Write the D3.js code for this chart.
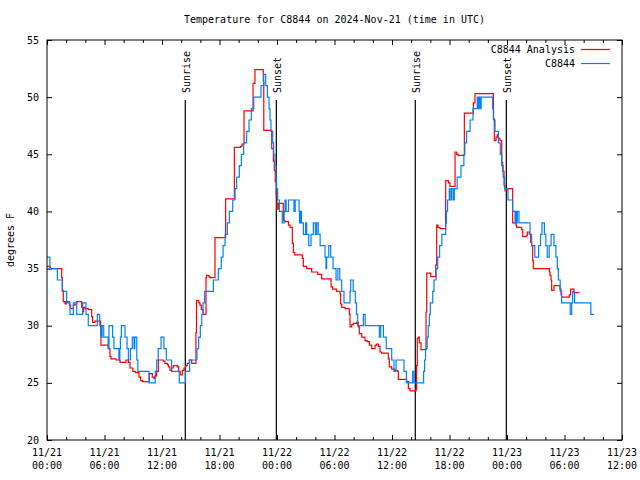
<!DOCTYPE html>
<html><head><meta charset="utf-8">
<script src="https://cdn.jsdelivr.net/npm/d3@7"></script>
<style>
body{margin:0;background:#fff;}
text{font-family:"DejaVu Sans Mono",monospace;font-size:10px;fill:#000;}
</style></head><body>
<svg id="c" width="640" height="480"></svg>
<script>
// ---- data (hours after 2024-11-21 00:00 UTC) ----
const startUTC = Date.UTC(2024,10,21,0,0);
const endHours = 60;
const yTicks = [20,25,30,35,40,45,50,55];
const majorTickHours = [0,6,12,18,24,30,36,42,48,54,60];
const tickDateLabels = ["11/21","11/21","11/21","11/21","11/22","11/22","11/22","11/22","11/23","11/23","11/23"];
const tickTimeLabels = ["00:00","06:00","12:00","18:00","00:00","06:00","12:00","18:00","00:00","06:00","12:00"];
const sunHours = [14.43, 23.93, 38.43, 47.93];
const sunLabels = ["Sunrise","Sunset","Sunrise","Sunset"];
const seriesNames = ["C8844 Analysis","C8844"];

const obsHours = [0,0.3,1.08,1.6,2.05,2.4,2.75,3.1,3.72,4.07,4.31,5.25,5.5,5.63,5.75,5.92,6.38,6.47,6.85,6.99,7.5,7.6,7.66,7.76,8.14,8.35,8.49,8.7,8.9,9.08,9.16,9.37,9.48,10.64,11.3,11.45,11.6,11.9,12.2,12.45,13.0,13.8,14.45,14.88,15.65,15.82,16.0,16.15,16.28,16.45,17.36,17.88,18.19,18.37,18.58,18.82,19.03,19.38,19.62,19.79,20.07,20.28,20.52,20.83,21.08,21.32,21.57,22.33,22.61,22.82,23.0,23.17,23.27,23.37,23.55,23.65,23.79,23.9,23.96,24.07,24.25,24.55,24.75,24.84,24.95,25.2,25.77,25.9,26.3,26.35,26.45,26.55,26.75,26.99,27.1,27.31,27.55,27.79,28.0,28.14,28.3,28.5,29.01,29.11,29.18,29.4,29.6,29.85,30.16,30.35,30.55,30.75,30.99,31.62,31.69,31.95,32.17,32.3,32.42,33.01,33.2,34.68,34.82,35.1,35.4,35.97,36.2,36.42,37.25,37.5,38.16,38.3,39.3,39.4,39.5,39.67,39.78,39.9,40.0,40.25,40.38,40.6,40.77,40.97,41.2,41.6,41.68,41.8,41.98,42.05,42.2,42.37,42.5,42.8,43.2,43.5,43.6,43.78,44.15,44.45,44.9,45.0,45.1,45.2,45.3,46.5,46.6,46.75,47.1,47.3,47.45,47.6,47.75,48.1,48.59,48.84,48.95,49.0,49.08,49.25,50.4,50.57,50.9,51.3,51.5,51.65,51.9,52.05,52.2,52.4,52.6,52.9,53.1,53.25,53.36,53.55,53.7,54.6,54.75,54.85,55.05,56.75,57.08];
const obsTemps = [36,35,34,33,32,31,32,31,32,31,30,31,30,29,30,29,28,30,29,28,27,28,29,30,29,28,27,28,29,28,29,27,26,25,26,27,28,29,28,27,26,25,26,27,28,29,30,31,32,33,34,35,36,37,38,39,40,41,42,43,44,45,46,47,48,49,50,51,52,51,50,49,48,47,46,45,44,43,42,41,40,39,40,41,40,41,40,41,40,39,40,39,38,39,38,37,38,39,38,39,38,37,36,35,36,37,36,35,34,35,34,33,32,33,34,33,32,31,30,31,30,29,30,29,28,27,26,27,26,25,26,25,26,27,28,29,30,31,32,33,34,35,36,37,38,39,40,41,42,41,42,41,42,43,44,45,46,47,48,49,50,49,50,49,50,49,48,47,46,45,44,43,42,41,40,39,40,39,40,39,38,37,36,37,38,39,38,37,36,37,38,37,36,35,34,33,32,31,32,33,32,31,31];

const anaHours = [0,0.33,1.53,1.6,1.7,1.88,2.0,2.33,2.47,2.75,2.92,3.1,3.62,3.72,3.82,3.97,4.31,4.66,4.76,5.01,5.6,5.63,6.4,6.57,6.68,7.2,7.62,8.24,8.49,8.66,8.96,9.25,9.6,9.77,9.98,10.68,10.99,11.16,11.27,11.44,11.62,12.14,12.31,12.56,12.66,12.83,13.0,13.18,13.6,13.74,13.9,14.12,14.29,14.47,14.64,14.85,15.1,15.54,15.6,15.85,15.96,16.1,16.3,16.59,16.65,16.9,17.0,17.53,18.64,19.55,20.2,20.35,20.56,21.5,21.7,22.57,22.62,23.45,23.62,23.72,23.82,23.92,24.0,24.14,24.66,24.84,25.2,25.36,25.6,25.71,25.85,26.64,26.75,27.1,27.62,28.25,28.66,29.64,29.81,30.2,30.57,30.64,30.75,31.1,31.55,31.62,31.8,31.97,32.31,32.48,32.59,32.84,33.18,33.4,33.64,33.88,34.23,34.4,34.58,34.75,34.92,35.62,35.72,35.97,36.3,36.59,36.66,37.53,37.71,37.88,38.5,38.57,38.64,38.75,38.85,39.03,39.55,39.62,40.04,40.56,40.66,40.8,41.01,41.6,41.88,42.05,42.58,42.75,42.92,43.55,44.49,44.66,46.58,46.68,46.85,46.99,47.1,47.27,47.45,47.55,47.69,47.79,47.97,48.04,48.59,48.94,49.01,49.53,49.64,50.05,50.12,50.33,50.47,50.57,50.68,50.75,52.42,52.49,52.59,52.66,52.9,53.53,53.64,53.7,54.5,54.64,54.99,55.55];
const anaTemps = [35.2,35,34.2,33.1,32.1,31.9,32.1,31.8,31.5,31.8,31.9,32.1,31.6,31.2,31.6,31.5,31.4,30.8,30.3,30.4,29.3,28.3,28,27.3,27.1,27,26.8,27,26.8,26.3,26,25.9,25.5,25.2,25.1,25.8,25.5,25.4,25.6,26,27,26.9,26.7,26.6,26.4,26.1,26.3,26.5,26.4,26,25.7,26.1,26.3,26.5,26.7,27,26.7,29.4,32.2,32.0,31.8,31.4,31.0,34.2,34.4,34.3,34.2,37.7,41.1,45.6,45.7,45.9,48.8,51.2,52.4,51.4,47.1,45.5,44.4,43.6,42.6,41.5,40.2,40.7,39.2,39.1,38.8,38.6,37.2,36.4,36.2,35.9,35.2,35,34.7,34.5,34.1,33.4,33.2,33.0,32.8,31.9,31.6,31.5,31,29.9,30.1,30.2,30.3,29.9,29.3,29,28.7,28.6,28.3,28,28.3,28.4,28.2,27.7,27.6,27.1,26.4,26.2,26.1,26,25.3,25.1,24.5,24.3,24.4,26.5,28.9,29,28.5,27.9,31.2,34.6,34.3,35.3,38.8,38.6,38.5,42.7,42.5,42.2,45.2,45,44.9,48.6,49.5,50.3,48.1,46.2,46.5,46.7,46.4,46.2,44.3,43.5,42.3,41.8,41.9,42,39,38.8,38.6,38.4,37.8,37.9,38.2,38.0,37.3,37,35.7,35,34.7,34.4,34,33.1,33.5,33.2,32.7,32.5,32.7,33.2,32.9,32.9];

// ---- chart ----
const toDate = h => new Date(startUTC + h*3600e3);
const L=47, R=622, T=40, B=440;
const svg = d3.select("#c");
const x = d3.scaleUtc().domain([toDate(0), toDate(endHours)]).range([L,R]);
const y = d3.scaleLinear().domain([20,55]).range([B,T]);

const majorDates = majorTickHours.map(toDate);
const minorDates = d3.range(0, endHours+0.1, 2).filter(h => h%6!==0).map(toDate);

function styleAxis(g){ g.select(".domain").remove(); g.selectAll(".tick line").attr("stroke","#000"); g.selectAll(".tick text").remove(); }
svg.append("g").attr("transform",`translate(0,${B})`).call(d3.axisBottom(x).tickValues(majorDates).tickSize(-5)).call(styleAxis);
svg.append("g").attr("transform",`translate(0,${B})`).call(d3.axisBottom(x).tickValues(minorDates).tickSize(-3)).call(styleAxis);
svg.append("g").attr("transform",`translate(0,${T})`).call(d3.axisTop(x).tickValues(majorDates).tickSize(-5)).call(styleAxis);
svg.append("g").attr("transform",`translate(0,${T})`).call(d3.axisTop(x).tickValues(minorDates).tickSize(-3)).call(styleAxis);
svg.append("g").attr("transform",`translate(${L},0)`).call(d3.axisLeft(y).tickValues(yTicks).tickSize(-5)).call(styleAxis);
svg.append("g").attr("transform",`translate(${R},0)`).call(d3.axisRight(y).tickValues(yTicks).tickSize(-5)).call(styleAxis);

// tick labels
svg.append("g").selectAll("text").data(yTicks).join("text")
  .attr("x", L-8).attr("y", d=>y(d)).attr("dy","0.35em").attr("text-anchor","end").text(d=>d);
const xl = svg.append("g").selectAll("g").data(majorTickHours).join("g");
xl.append("text").attr("x",(d)=>x(toDate(d))).attr("y",B+16).attr("text-anchor","middle").text((d,i)=>tickDateLabels[i]);
xl.append("text").attr("x",(d)=>x(toDate(d))).attr("y",B+29).attr("text-anchor","middle").text((d,i)=>tickTimeLabels[i]);

// sunrise/sunset
const sg = svg.append("g").selectAll("g").data(sunHours).join("g");
sg.append("line").attr("x1",d=>x(toDate(d))).attr("x2",d=>x(toDate(d))).attr("y1",T+60).attr("y2",B)
  .attr("stroke","#000").attr("stroke-width",1.2);
sg.append("text").attr("transform",d=>`translate(${x(toDate(d))+4.5},${T+53}) rotate(-90)`)
  .attr("text-anchor","start").text((d,i)=>sunLabels[i]);

// series
const line = d3.line().curve(d3.curveStepAfter).x(d=>x(toDate(d[0]))).y(d=>y(d[1]));
const ana = anaHours.map((h,i)=>[h,anaTemps[i]]);
const obs = obsHours.map((h,i)=>[h,obsTemps[i]]);
svg.append("path").datum(ana).attr("d",line).attr("fill","none").attr("stroke","#ff0000").attr("stroke-width",1.2);
svg.append("path").datum(obs).attr("d",line).attr("fill","none").attr("stroke","#0080ff").attr("stroke-width",1.2);

// frame
svg.append("rect").attr("x",L).attr("y",T).attr("width",R-L).attr("height",B-T).attr("fill","none").attr("stroke","#000").attr("stroke-width",1);

// title & labels
svg.append("text").attr("x",(L+R)/2).attr("y",23).attr("text-anchor","middle").text("Temperature for C8844 on 2024-Nov-21 (time in UTC)");
svg.append("text").attr("transform",`translate(14,${(T+B)/2}) rotate(-90)`).attr("text-anchor","middle").text("degrees F");

// legend
const legColors = ["#ff0000","#0080ff"];
const lg = svg.append("g").selectAll("g").data(seriesNames).join("g");
lg.append("text").attr("x",575).attr("y",(d,i)=>53+i*14).attr("text-anchor","end").text(d=>d);
lg.append("line").attr("x1",581).attr("x2",610).attr("y1",(d,i)=>49.5+i*14).attr("y2",(d,i)=>49.5+i*14)
  .attr("stroke",(d,i)=>legColors[i]).attr("stroke-width",1.2);
</script>
</body></html>
